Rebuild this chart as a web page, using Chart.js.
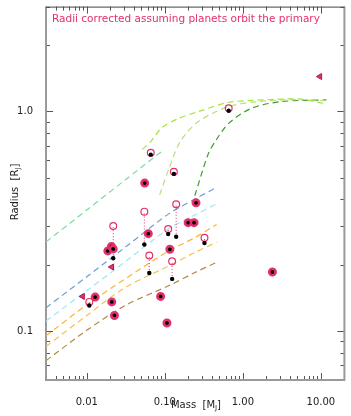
<!DOCTYPE html>
<html>
<head>
<meta charset="utf-8">
<script src="https://cdn.jsdelivr.net/npm/chart.js@4/dist/chart.umd.min.js"></script>
<style>
  body { margin: 0; background: #fff; }
  canvas { display: block; }
</style>
</head>
<body>
<canvas id="c" width="351" height="416"></canvas>
<script>
// tick labels
var massTicks = [0.01, 0.1, 1, 10];
var massTickLabels = ['0.01', '0.10', '1.00', '10.00'];
var radiusTicks = [0.1, 1];
var radiusTickLabels = ['0.1', '1.0'];

// planets where the corrected radius differs (black = measured, open = corrected)
var pairMass = [0.066, 0.1306, 0.0218, 0.0546, 0.1104, 0.1397, 0.0632, 0.124, 0.322, 0.658, 0.01076];
var pairRadius = [0.636, 0.52, 0.215, 0.248, 0.277, 0.269, 0.184, 0.173, 0.252, 1.007, 0.131];
var pairCorrected = [0.648, 0.532, 0.301, 0.350, 0.292, 0.378, 0.221, 0.208, 0.266, 1.035, 0.136];

// planets with no correction
var eqMass = [0.0552, 0.0186, 0.0207, 0.0218, 0.0614, 0.116, 0.251, 0.199, 0.237, 2.39, 0.0128, 0.0209, 0.0226, 0.0883, 0.1064];
var eqRadius = [0.472, 0.232, 0.243, 0.237, 0.278, 0.236, 0.384, 0.312, 0.312, 0.186, 0.143, 0.136, 0.118, 0.144, 0.109];

// upper limits (triangles)
var triMass = [0.0209, 0.00884, 9.7];
var triRadius = [0.196, 0.144, 1.442];

// model curves
var mintMass = [0.003, 0.01, 0.031, 0.09];
var mintRadius = [0.255, 0.356, 0.488, 0.656];
var lowMass = [0.003, 0.01, 0.031, 0.112, 0.235, 0.46];
var blueRadius = [0.128, 0.177, 0.241, 0.342, 0.397, 0.451];
var cyanRadius = [0.1113, 0.153, 0.207, 0.293, 0.336, 0.380];
var orangeRadius = [0.0953, 0.132, 0.173, 0.232, 0.265, 0.306];
var gold = [0.0853, 0.118, 0.158, 0.198, 0.227, 0.254];
var brownRadius = [0.0735, 0.101, 0.131, 0.161, 0.184, 0.206];
var limeMass = [0.0515, 0.0665, 0.0927, 0.151, 0.272, 0.658, 1.93, 5.13, 10.7];
var limeRadius = [0.672, 0.733, 0.847, 0.930, 1.0, 1.10, 1.129, 1.14, 1.09];
var paleMass = [0.0859, 0.1127, 0.159, 0.272, 0.658, 1.585, 5.13, 10.7];
var paleRadius = [0.418, 0.548, 0.733, 0.902, 1.053, 1.109, 1.133, 1.12];
var darkMass = [0.242, 0.358, 0.445, 0.658, 1.30, 3.14, 11.8];
var darkRadius = [0.414, 0.638, 0.733, 0.883, 1.035, 1.109, 1.129];

var PINK = '#e3306b';

function pts(xs, ys) {
    return xs.map(function (v, i) { return { x: v, y: ys[i] }; });
}

function curve(xs, ys, color) {
    return {
        data: pts(xs, ys),
        showLine: true,
        borderColor: color,
        borderWidth: 1.2,
        borderDash: [6, 4],
        pointRadius: 0,
        tension: 0.3,
        order: 10
    };
}

var links = [];
pairMass.forEach(function (m, i) {
    links.push({ x: m, y: pairRadius[i] });
    links.push({ x: m, y: pairCorrected[i] });
    links.push({ x: m, y: null });
});

function noPad(s) {
    s.paddingTop = 0; s.paddingBottom = 0;
    s.paddingLeft = 0; s.paddingRight = 0;
}

var decor = {
    id: 'decor',
    beforeDatasetsDraw: function (chart) {
        var ctx = chart.ctx, a = chart.chartArea;
        var x = chart.scales.x, y = chart.scales.y;
        ctx.save();
        ctx.strokeStyle = '#555';
        ctx.lineWidth = 1;
        for (var d = -3; d <= 1; d++) {
            for (var k = 1; k <= 9; k++) {
                var v = k * Math.pow(10, d);
                if (v < x.min || v > x.max) continue;
                var px = Math.round(x.getPixelForValue(v)) + 0.5;
                var len = k == 1 ? 7 : 4;
                ctx.beginPath();
                ctx.moveTo(px, a.bottom); ctx.lineTo(px, a.bottom - len);
                ctx.moveTo(px, a.top); ctx.lineTo(px, a.top + len);
                ctx.stroke();
            }
        }
        for (var d2 = -2; d2 <= 0; d2++) {
            for (var k2 = 1; k2 <= 9; k2++) {
                var v2 = k2 * Math.pow(10, d2);
                if (v2 < y.min || v2 > y.max) continue;
                var py = Math.round(y.getPixelForValue(v2)) + 0.5;
                var len2 = k2 == 1 ? 7 : 4;
                ctx.beginPath();
                ctx.moveTo(a.left, py); ctx.lineTo(a.left + len2, py);
                ctx.moveTo(a.right, py); ctx.lineTo(a.right - len2, py);
                ctx.stroke();
            }
        }
        // frame
        ctx.strokeStyle = '#999';
        ctx.lineWidth = 2;
        ctx.beginPath();
        ctx.moveTo(a.left, a.top); ctx.lineTo(a.left, a.bottom);
        ctx.lineTo(a.right, a.bottom); ctx.lineTo(a.right, a.top);
        ctx.stroke();
        ctx.strokeStyle = '#444';
        ctx.lineWidth = 1;
        ctx.beginPath();
        ctx.moveTo(a.left, a.top + 0.5); ctx.lineTo(a.right, a.top + 0.5);
        ctx.stroke();
        ctx.restore();
    },
    afterDraw: function (chart) {
        var ctx = chart.ctx;
        ctx.save();
        // title inside the plot
        var title = 'Radii corrected assuming planets orbit the primary';
        ctx.font = '10px "DejaVu Sans"';
        var w = ctx.measureText(title).width;
        var fs = 10 * 268 / w;
        ctx.font = fs.toFixed(2) + 'px "DejaVu Sans"';
        ctx.fillStyle = PINK;
        ctx.textBaseline = 'middle';
        ctx.textAlign = 'left';
        ctx.fillText(title, 52, 19);

        // axis titles with subscript J
        ctx.fillStyle = '#222';
        function label(main, sub, cx, cy, rot) {
            ctx.save();
            ctx.translate(cx, cy);
            ctx.rotate(rot);
            ctx.font = '10px "DejaVu Sans"';
            var w1 = ctx.measureText(main).width;
            ctx.font = '7px "DejaVu Sans"';
            var w2 = ctx.measureText(sub).width;
            ctx.font = '10px "DejaVu Sans"';
            var w3 = ctx.measureText(']').width;
            var x0 = -(w1 + w2 + w3) / 2;
            ctx.textAlign = 'left';
            ctx.textBaseline = 'alphabetic';
            ctx.fillText(main, x0, 4);
            ctx.font = '7px "DejaVu Sans"';
            ctx.fillText(sub, x0 + w1, 6);
            ctx.font = '10px "DejaVu Sans"';
            ctx.fillText(']', x0 + w1 + w2, 4);
            ctx.restore();
        }
        label('Mass  [M', 'J', 196, 404, 0);
        label('Radius  [R', 'J', 14, 192, -Math.PI / 2);
        ctx.restore();
    }
};

new Chart(document.getElementById('c'), {
    type: 'scatter',
    data: {
        datasets: [
            {
                data: pts(triMass, triRadius),
                pointStyle: 'triangle',
                rotation: -90,
                pointRadius: 3.5,
                backgroundColor: PINK,
                borderColor: '#b0184c',
                borderWidth: 1,
                order: 0
            },
            {
                data: pts(eqMass, eqRadius),
                pointRadius: 3.2,
                backgroundColor: '#000',
                borderColor: PINK,
                borderWidth: 2.6,
                order: 1
            },
            {
                data: pts(pairMass, pairRadius),
                pointRadius: 2.2,
                backgroundColor: '#000',
                borderWidth: 0,
                order: 2
            },
            {
                data: pts(pairMass, pairCorrected),
                pointRadius: 3.4,
                backgroundColor: 'rgba(255,255,255,0)',
                borderColor: PINK,
                borderWidth: 1.2,
                order: 3
            },
            {
                data: links,
                showLine: true,
                spanGaps: false,
                borderColor: PINK,
                borderWidth: 1,
                borderDash: [1, 2],
                pointRadius: 0,
                order: 4
            },
            curve(mintMass, mintRadius, '#7ddc9c'),
            curve(lowMass, blueRadius, '#6f9fd2'),
            curve(lowMass, cyanRadius, '#9fe6f2'),
            curve(lowMass, orangeRadius, '#ffb42e'),
            curve(lowMass, gold, '#f2c25a'),
            curve(lowMass, brownRadius, '#b08a44'),
            curve(limeMass, limeRadius, '#a6e63c'),
            curve(paleMass, paleRadius, '#bcdf7c'),
            curve(darkMass, darkRadius, '#3f9a2e')
        ]
    },
    options: {
        responsive: false,
        animation: false,
        events: [],
        layout: { padding: { top: 4, right: 5, left: 0, bottom: 0 } },
        plugins: { legend: { display: false }, tooltip: { enabled: false } },
        scales: {
            x: {
                type: 'logarithmic',
                min: 0.003,
                max: 20,
                grid: { display: false },
                border: { display: false },
                ticks: {
                    padding: 8,
                    color: '#222',
                    font: { family: 'DejaVu Sans', size: 10 },
                    maxRotation: 0,
                    autoSkip: false,
                    callback: function (v) { return massTickLabels[massTicks.indexOf(v)]; }
                },
                afterBuildTicks: function (s) { s.ticks = massTicks.map(function (v) { return { value: v }; }); },
                afterFit: function (s) { s.height = 36; noPad(s); }
            },
            y: {
                type: 'logarithmic',
                min: 0.06,
                max: 3,
                grid: { display: false },
                border: { display: false },
                ticks: {
                    padding: 5,
                    color: '#222',
                    font: { family: 'DejaVu Sans', size: 10 },
                    autoSkip: false,
                    callback: function (v) { return radiusTickLabels[radiusTicks.indexOf(v)]; }
                },
                afterBuildTicks: function (s) { s.ticks = radiusTicks.map(function (v) { return { value: v }; }); },
                afterFit: function (s) { s.width = 46; noPad(s); }
            }
        }
    },
    plugins: [decor]
});
</script>
</body>
</html>
